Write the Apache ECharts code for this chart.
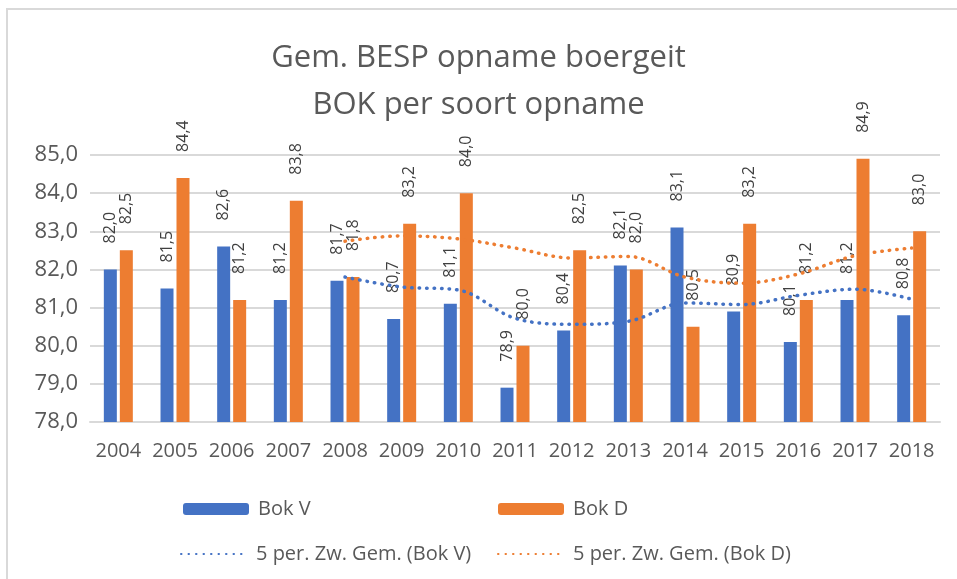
<!DOCTYPE html>
<html lang="nl">
<head>
    <meta charset="utf-8">
    <title>Gem. BESP opname boergeit</title>
    <style>
        html,body,#main{
            height: 100%;
            width: 100%;
            padding: 0;
            margin: 0;
            background: #fff;
        }
    </style>
</head>
<body>
    <div id="main"></div>
    <script src="https://cdn.jsdelivr.net/npm/echarts@6/dist/echarts.min.js"></script>
    <script>
        // jaren
        var years = ['2004','2005','2006','2007','2008','2009','2010','2011','2012','2013','2014','2015','2016','2017','2018'];
        // gemiddelde BESP opname
        var bokV = [82.0, 81.5, 82.6, 81.2, 81.7, 80.7, 81.1, 78.9, 80.4, 82.1, 83.1, 80.9, 80.1, 81.2, 80.8];
        var bokD = [82.5, 84.4, 81.2, 83.8, 81.8, 83.2, 84.0, 80.0, 82.5, 82.0, 80.5, 83.2, 81.2, 84.9, 83.0];
        // 5 per. zwevend gemiddelde
        var gemV = [null, null, null, null, 81.8, 81.54, 81.46, 80.72, 80.56, 80.64, 81.12, 81.08, 81.32, 81.48, 81.22];
        var gemD = [null, null, null, null, 82.74, 82.88, 82.8, 82.56, 82.3, 82.34, 81.8, 81.64, 81.88, 82.36, 82.56];

        var blue = '#4472C4', orange = '#ED7D31';
        var font = '"Open Sans", sans-serif';
        var comma = function (v) { return v.toFixed(1).replace('.', ','); };

        var barLabel = {
            show: true,
            position: 'top',
            rotate: 90,
            align: 'left',
            verticalAlign: 'middle',
            distance: 14,
            offset: [12, 0],
            color: '#404040',
            fontFamily: font,
            fontSize: 16,
            formatter: function (p) { return comma(p.value); }
        };

        var legendBase = {
            padding: 0,
            itemWidth: 66,
            itemHeight: 12,
            textStyle: { color: '#595959', fontFamily: font, fontSize: 20, padding: [0, 0, 0, 4] }
        };

        var chart = echarts.init(document.getElementById('main'));
        chart.setOption({
            animation: false,
            title: {
                text: 'Gem. BESP opname boergeit\nBOK per soort opname',
                left: 'center',
                top: 30,
                textStyle: { color: '#595959', fontFamily: font, fontSize: 31, fontWeight: 'normal', lineHeight: 47 }
            },
            graphic: [{
                type: 'rect',
                shape: { x: 7, y: 9, width: 1000, height: 700 },
                style: { fill: 'none', stroke: '#d9d9d9', lineWidth: 2 },
                silent: true
            }],
            legend: [
                Object.assign({ data: ['Bok V'], left: 183, top: 499 }, legendBase),
                Object.assign({ data: ['Bok D'], left: 498, top: 499 }, legendBase),
                Object.assign({ data: [{ name: '5 per. Zw. Gem. (Bok V)', itemStyle: { opacity: 0 } }], left: 180, top: 544 }, legendBase),
                Object.assign({ data: [{ name: '5 per. Zw. Gem. (Bok D)', itemStyle: { opacity: 0 } }], left: 497, top: 544 }, legendBase)
            ],
            grid: { left: 90, right: 17, top: 155, bottom: 157 },
            xAxis: {
                type: 'category',
                data: years,
                axisTick: { show: false },
                axisLine: { lineStyle: { color: '#d9d9d9', width: 2 } },
                axisLabel: { interval: 0, color: '#595959', fontFamily: font, fontSize: 20, margin: 19 }
            },
            yAxis: {
                type: 'value',
                min: 78,
                max: 85,
                interval: 1,
                axisLine: { show: false },
                axisTick: { show: false },
                splitLine: { lineStyle: { color: '#d9d9d9', width: 2 } },
                axisLabel: { color: '#595959', fontFamily: font, fontSize: 22, margin: 12, formatter: comma }
            },
            series: [
                {
                    name: 'Bok V', type: 'bar', data: bokV,
                    barWidth: 13, barGap: '23%',
                    itemStyle: { color: blue },
                    label: barLabel
                },
                {
                    name: 'Bok D', type: 'bar', data: bokD,
                    barWidth: 13, barGap: '23%',
                    itemStyle: { color: orange },
                    label: barLabel
                },
                {
                    name: '5 per. Zw. Gem. (Bok V)', type: 'line', data: gemV,
                    smooth: 0.35, showSymbol: false, symbol: 'none',
                    itemStyle: { color: blue },
                    lineStyle: { color: blue, width: 3.5, type: [0.5, 7], cap: 'round' },
                    z: 5
                },
                {
                    name: '5 per. Zw. Gem. (Bok D)', type: 'line', data: gemD,
                    smooth: 0.35, showSymbol: false, symbol: 'none',
                    itemStyle: { color: orange },
                    lineStyle: { color: orange, width: 3.5, type: [0.5, 7], cap: 'round' },
                    z: 5
                }
            ]
        });
    </script>
</body>
</html>
